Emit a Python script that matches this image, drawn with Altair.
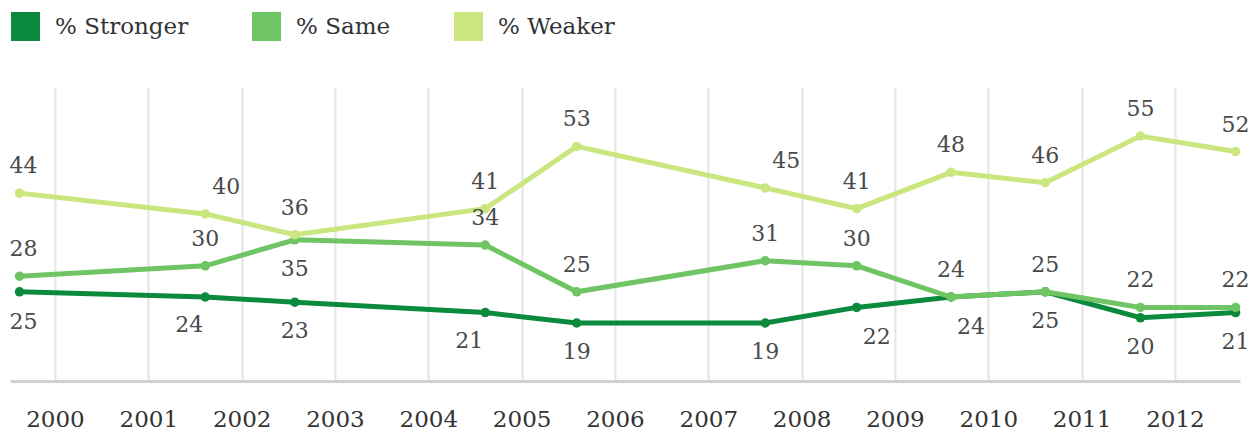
import altair as alt
import pandas as pd

# survey dates (decimal years)
dates = [1999.62, 2001.61, 2002.57, 2004.61, 2005.59, 2007.61, 2008.59, 2009.60, 2010.61, 2011.63, 2012.65]
stronger = [25, 24, 23, 21, 19, 19, 22, 24, 25, 20, 21]
same = [28, 30, 35, 34, 25, 31, 30, 24, 25, 22, 22]
weaker = [44, 40, 36, 41, 53, 45, 41, 48, 46, 55, 52]
series_names = ["% Stronger", "% Same", "% Weaker"]
colors = ["#0b8a3d", "#6fc564", "#cae67e"]
year_ticks = list(range(2000, 2013))

# label placement codes (which side of the point the number sits)
pos_stronger = ["SE0", "SW", "S", "SW", "S", "S", "SE", "SE", "S", "S", "S"]
pos_same = ["N0", "N", "S", "N", "N", "N", "N", "N", "N", "N", "N"]
pos_weaker = ["N0", "NE", "N", "N", "N", "NE", "N", "N", "N", "N", "N"]

rows = []
for name, vals, poss in zip(series_names, [stronger, same, weaker], [pos_stronger, pos_same, pos_weaker]):
    for d, v, p in zip(dates, vals, poss):
        rows.append({"date": d, "value": v, "series": name, "pos": p})
df = pd.DataFrame(rows)

FONT = "DejaVu Serif"

x_enc = alt.X(
    "date:Q",
    scale=alt.Scale(domain=[1999.518, 2012.697], nice=False, zero=False),
    axis=alt.Axis(
        values=year_ticks, format="d", title=None, grid=True,
        gridColor="#e4e4e4", gridWidth=2, ticks=False,
        domainColor="#d0d0d0", domainWidth=3,
        labelFont=FONT, labelFontSize=23, labelColor="#333333",
        labelPadding=27, labelFlush=False, labelOverlap=False,
    ),
)
y_enc = alt.Y("value:Q", scale=alt.Scale(domain=[7.83, 64.43], nice=False, zero=False), axis=None)
color_enc = alt.Color(
    "series:N",
    scale=alt.Scale(domain=series_names, range=colors),
    legend=alt.Legend(
        orient="none", legendX=1, legendY=-75, direction="horizontal", title=None,
        symbolType="square", symbolSize=841, symbolStrokeWidth=0, symbolOpacity=1,
        labelFont=FONT, labelFontSize=23, labelColor="#333333",
        labelOffset=15, columnPadding=63,
    ),
)

base = alt.Chart(df)
layers = []
for name in series_names:
    sub = base.transform_filter(alt.datum.series == name)
    layers.append(sub.mark_point(filled=True, size=90, opacity=1).encode(x=x_enc, y=y_enc, color=color_enc))
    layers.append(sub.mark_line(strokeWidth=5).encode(x=x_enc, y=y_enc, color=color_enc))

offsets = {"N": (0, -27), "N0": (4, -27), "NE": (21, -27), "S": (0, 29), "SE0": (4, 30),
           "SW": (-16, 28), "SE": (20, 30)}
for code, (dx, dy) in offsets.items():
    layers.append(
        base.transform_filter(alt.datum.pos == code)
        .mark_text(dx=dx, dy=dy, font=FONT, fontSize=22, color="#4a4a4a", baseline="middle")
        .encode(x=x_enc, y=y_enc, text="value:Q")
    )

chart = (
    alt.layer(*layers)
    .properties(width=1230, height=294,
                autosize=alt.AutoSizeParams(type="none"),
                padding={"left": 2, "top": 79, "right": 10, "bottom": 54})
    .configure_view(stroke=None)
)

chart.save("out.html", embed_options={"renderer": "svg", "actions": False})
